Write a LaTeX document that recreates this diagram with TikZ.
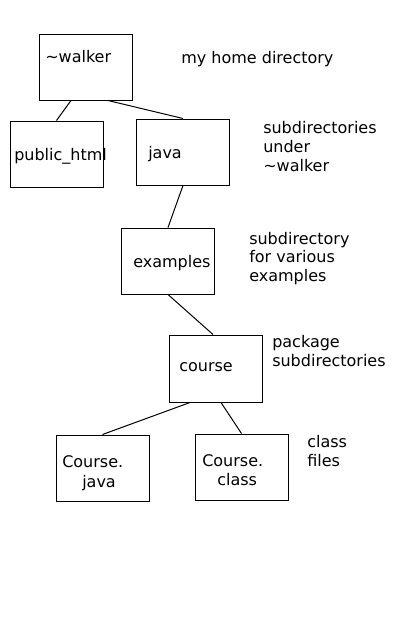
\documentclass[tikz,border=0pt]{standalone}
\usepackage{fontspec}
\setmainfont{DejaVu Sans}
\usetikzlibrary{positioning,calc}

\begin{document}
\begin{tikzpicture}[
            x=0.75pt, y=-0.75pt,
            every node/.style={font=\fontsize{12}{13.9}\selectfont},
            dirbox/.style={draw, rectangle, line width=0.75pt, minimum width=69.75pt, minimum height=49.5pt, inner sep=0pt},
            lbl/.style={anchor=base west, inner sep=0pt},
            note/.style={anchor=base west, inner sep=0pt, align=left}
        ]
            \useasboundingbox (0,0) rectangle (400,640);
            % directory boxes
            \node[dirbox] (walker) at (85.5,67) {};
            \node[dirbox] (pub) at (56.5,154) {};
            \node[dirbox] (java) at (183,152) {};
            \node[dirbox] (examples) at (168,261) {};
            \node[dirbox, minimum height=50.25pt] (course) at (216,368.5) {};
            \node[dirbox] (cjava) at (102.5,468) {};
            \node[dirbox] (cclass) at (241.5,467) {};

            % box texts
            \node[lbl] (walkertxt) at (45,62) {\textasciitilde walker};
            \node[lbl] (pubtxt) at (14,160) {public\_html};
            \node[lbl] (javatxt) at (148,158) {java};
            \node[lbl] (examplestxt) at (133,267) {examples};
            \node[lbl] (coursetxt) at (179,371) {course};
            \node[lbl] (cjavatxt1) at (62,467) {Course.};
            \node[lbl] (cjavatxt2) at (82,487) {java};
            \node[lbl] (cclasstxt1) at (202,466) {Course.};
            \node[lbl] (cclasstxt2) at (217,485) {class};

            % notes (base = last line)
            \node[note] (homenote) at (181,63) {my home directory};
            \node[note] (subnote) at (263,171) {subdirectories\\under\\\textasciitilde walker};
            \node[note] (exnote) at (249,281.5) {subdirectory\\for various\\examples};
            \node[note] (pkgnote) at (272,366.5) {package\\subdirectories};
            \node[note] (classnote) at (307,466) {class\\files};

            % tree lines
            \draw[line width=0.75pt] ($(walker.south)+(-14.5,0)$) -- (pub.north);
            \draw[line width=0.75pt] ($(walker.south)+(22.5,0)$) -- (java.north);
            \draw[line width=0.75pt] (java.south) -- (examples.north);
            \draw[line width=0.75pt] (examples.south) -- ($(course.north)+(-3,0)$);
            \draw[line width=0.75pt] ($(course.south)+(-26,0)$) -- (cjava.north);
            \draw[line width=0.75pt] ($(course.south)+(5,0)$) -- (cclass.north);
        \end{tikzpicture}
\end{document}
